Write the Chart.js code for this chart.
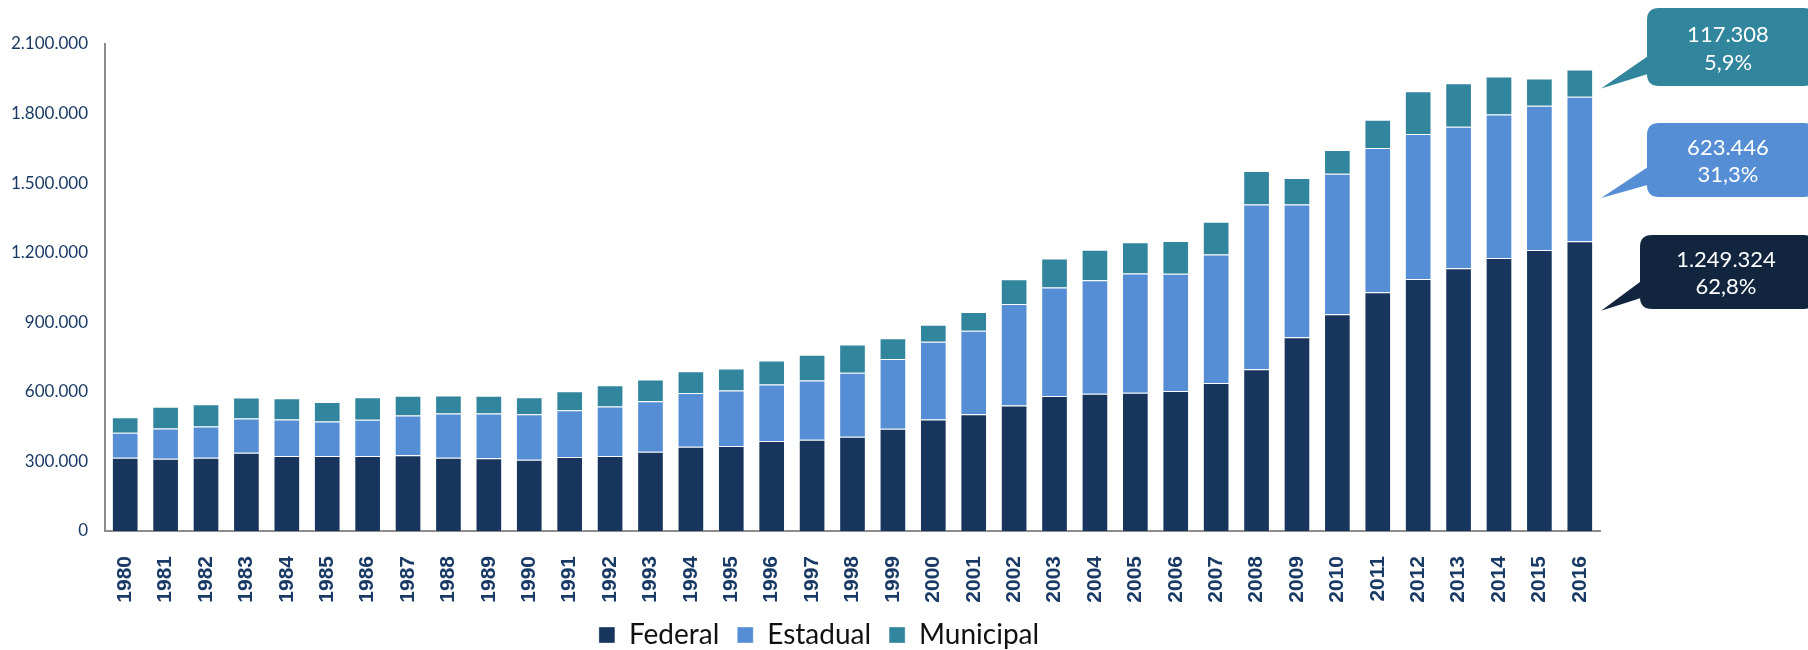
<!DOCTYPE html>
<html>
<head>
<meta charset="utf-8">
<script src="https://cdn.jsdelivr.net/npm/chart.js@4.4.1/dist/chart.umd.min.js"></script>
<style>
  html, body { margin: 0; padding: 0; background: #fff; }
  #wrap { position: relative; width: 1808px; height: 650px; }
</style>
</head>
<body>
<div id="wrap"><canvas id="chart"></canvas></div>
<script>
// Data
const years = ['1980', '1981', '1982', '1983', '1984', '1985', '1986', '1987', '1988', '1989',
               '1990', '1991', '1992', '1993', '1994', '1995', '1996', '1997', '1998', '1999',
               '2000', '2001', '2002', '2003', '2004', '2005', '2006', '2007', '2008', '2009',
               '2010', '2011', '2012', '2013', '2014', '2015', '2016'];

const federal = [316000, 312000, 316000, 337000, 323000, 323000, 323000, 327000, 316000, 314000,
                 307000, 319000, 323000, 342000, 363000, 366000, 388000, 393000, 406000, 441000,
                 481000, 503000, 541000, 582000, 592000, 596000, 604000, 638000, 698000, 836000,
                 935000, 1029000, 1087000, 1133000, 1177000, 1212000, 1249324];

const estadual = [108000, 130000, 135000, 148000, 158000, 149000, 157000, 171000, 191000, 193000,
                  196000, 202000, 214000, 218000, 232000, 240000, 244000, 256000, 276000, 301000,
                  335000, 361000, 438000, 468000, 489000, 514000, 505000, 554000, 710000, 572000,
                  605000, 623000, 625000, 610000, 619000, 622000, 623446];

const municipal = [67000, 94000, 96000, 91000, 91000, 84000, 97000, 85000, 77000, 76000,
                   74000, 82000, 92000, 93000, 94000, 95000, 103000, 111000, 122000, 89000,
                   73000, 80000, 107000, 125000, 132000, 135000, 141000, 142000, 144000, 114000,
                   103000, 121000, 184000, 188000, 164000, 117000, 117308];

const yTicks = [0, 300000, 600000, 900000, 1200000, 1500000, 1800000, 2100000];

const colFederal = '#18365d';
const colEstadual = '#558ed5';
const colMunicipal = '#31859c';
const navyText = '#1a3a66';

// format 1249324 -> "1.249.324"
function fmtNum(v) {
    return String(Math.round(v)).replace(/\B(?=(\d{3})+(?!\d))/g, '.');
}
function fmtPct(v) {
    return v.toFixed(1).replace('.', ',') + '%';
}

// Callout boxes on the right side (layout only, values come from the arrays)
const callouts = [
    { ds: 2, values: municipal, color: colMunicipal, x: 1647, y: 8, h: 78, baseTop: 54, baseBot: 73, tipAt: 0.7 },
    { ds: 1, values: estadual, color: colEstadual, x: 1647, y: 123, h: 74, baseTop: 165, baseBot: 184, tipAt: 0.7 },
    { ds: 0, values: federal, color: '#12253f', x: 1640, y: 235, h: 74, baseTop: 279, baseBot: 297, tipAt: 0.24 }
];

function roundRectPath(ctx, x, y, w, h, r) {
    ctx.beginPath();
    ctx.moveTo(x + r, y);
    ctx.lineTo(x + w - r, y);
    ctx.quadraticCurveTo(x + w, y, x + w, y + r);
    ctx.lineTo(x + w, y + h - r);
    ctx.quadraticCurveTo(x + w, y + h, x + w - r, y + h);
    ctx.lineTo(x + r, y + h);
    ctx.quadraticCurveTo(x, y + h, x, y + h - r);
    ctx.lineTo(x, y + r);
    ctx.quadraticCurveTo(x, y, x + r, y);
    ctx.closePath();
}

const calloutPlugin = {
    id: 'callouts',
    afterDatasetsDraw(chart) {
        const ctx = chart.ctx;
        const last = years.length - 1;
        const total = federal[last] + estadual[last] + municipal[last];
        ctx.save();
        callouts.forEach(function(c) {
            const el = chart.getDatasetMeta(c.ds).data[last];
            const tipX = el.x + el.width / 2 + 8;
            const tipY = el.y + c.tipAt * (el.base - el.y);
            const w = 1816 - c.x;

            ctx.fillStyle = c.color;
            roundRectPath(ctx, c.x, c.y, w, c.h, 12);
            ctx.fill();

            ctx.beginPath();
            ctx.moveTo(c.x + 4, c.baseTop);
            ctx.lineTo(tipX, tipY);
            ctx.lineTo(c.x + 4, c.baseBot);
            ctx.closePath();
            ctx.fill();

            const v = c.values[last];
            const cx = c.x === 1640 ? 1726 : 1728;
            ctx.fillStyle = '#ffffff';
            ctx.font = '22px Lato, "Open Sans", sans-serif';
            ctx.textAlign = 'center';
            ctx.textBaseline = 'middle';
            ctx.fillText(fmtNum(v), cx, c.y + c.h * 0.34);
            ctx.fillText(fmtPct(v / total * 100), cx, c.y + c.h * 0.70);
        });
        ctx.restore();
    }
};

// pull the legend a little closer to the bottom edge and a bit to the right
const legendNudge = {
    id: 'legendNudge',
    beforeLayout(chart) {
        const lg = chart.legend;
        if (lg && !lg._nudged) {
            const fit = lg.fit;
            lg.fit = function() {
                fit.call(this);
                this.height -= 9;
            };
            lg._nudged = true;
        }
    },
    afterLayout(chart) {
        const lg = chart.legend;
        if (lg) {
            lg.left += 19;
            lg.right += 19;
        }
    }
};

document.addEventListener('DOMContentLoaded', function() {
    if (typeof Chart === 'undefined') {
        console.error('Chart.js is not loaded!');
        return;
    }

    const canvas = document.getElementById('chart');
    const ctx = canvas.getContext('2d');

    function makeDataset(label, data, color) {
        return {
            label: label,
            data: data,
            backgroundColor: color,
            borderColor: 'rgba(255, 255, 255, 0.35)',
            borderWidth: 1,
            barPercentage: 0.66,
            categoryPercentage: 1.0
        };
    }

    new Chart(ctx, {
        type: 'bar',
        data: {
            labels: years,
            datasets: [
                makeDataset('Federal', federal, colFederal),
                makeDataset('Estadual', estadual, colEstadual),
                makeDataset('Municipal', municipal, colMunicipal)
            ]
        },
        options: {
            responsive: true,
            maintainAspectRatio: false,
            animation: false,
            layout: {
                padding: { left: 0, right: 208, top: 44, bottom: 0 }
            },
            scales: {
                x: {
                    stacked: true,
                    grid: { display: false, drawTicks: false },
                    border: { display: true, color: '#8c8c8c', width: 2 },
                    ticks: {
                        autoSkip: false,
                        maxRotation: 90,
                        minRotation: 90,
                        padding: 25,
                        color: navyText,
                        font: { family: '"Liberation Sans", Arial, sans-serif', size: 21, weight: 'bold' }
                    },
                    afterFit: function(scale) { scale.height = 72; }
                },
                y: {
                    stacked: true,
                    min: 0,
                    max: 2100000,
                    grid: { display: false, drawTicks: false },
                    border: { display: true, color: '#8c8c8c', width: 2 },
                    afterBuildTicks: function(scale) {
                        scale.ticks = yTicks.map(function(v) { return { value: v }; });
                    },
                    ticks: {
                        padding: 17,
                        color: navyText,
                        font: { family: 'Lato, "Open Sans", sans-serif', size: 17 },
                        callback: function(value) { return fmtNum(value); }
                    },
                    afterFit: function(scale) { scale.width = 105; }
                }
            },
            plugins: {
                legend: {
                    display: true,
                    position: 'bottom',
                    labels: {
                        boxWidth: 16,
                        boxHeight: 16,
                        padding: 18,
                        color: '#111111',
                        font: { family: 'Lato, "Open Sans", sans-serif', size: 28 }
                    }
                },
                tooltip: { enabled: false }
            }
        },
        plugins: [calloutPlugin, legendNudge]
    });
});
</script>
</body>
</html>
